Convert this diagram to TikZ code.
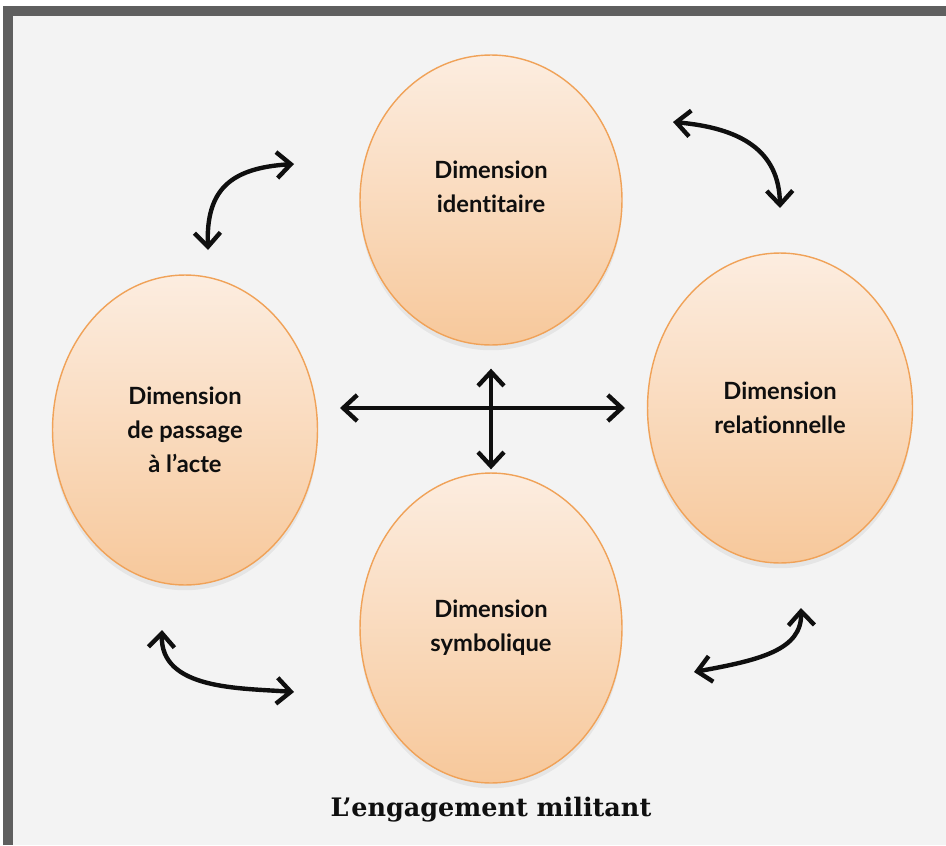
\documentclass[tikz,border=0pt]{standalone}
\usepackage{fontspec}
\newfontfamily\dimfont[Ligatures=NoCommon]{Lato}
\newfontfamily\titlefont{DejaVu Serif}
\usetikzlibrary{arrows.meta,shapes.geometric,shadows}
\definecolor{paper}{RGB}{243,243,243}
\definecolor{rim}{RGB}{95,95,95}
\definecolor{peachtop}{RGB}{252,237,224}
\definecolor{peachbot}{RGB}{247,200,155}
\definecolor{apricot}{RGB}{240,162,88}
\definecolor{ink}{RGB}{15,15,15}
\tikzset{
  >={Straight Barb[length=2.8mm,width=5.2mm]},
  dim/.style={ellipse,draw=apricot,thick,top color=peachtop,bottom color=peachbot,
    minimum width=5.3cm,minimum height=#1,align=center,inner sep=0pt,text=ink,
    font=\dimfont\bfseries\fontsize{13.5}{19.3}\selectfont,
    drop shadow={opacity=0.12,shadow xshift=0pt,shadow yshift=-3pt}},
  dim/.default=6.2cm,
  link/.style={<->,line width=2.5pt,draw=ink,line cap=round},
  caption/.style={font=\titlefont\bfseries\fontsize{14.5}{16}\selectfont,text=ink},
}
\begin{document}
\begin{tikzpicture}[x=0.02cm,y=-0.02cm]
  \useasboundingbox (0,0) rectangle (946,845);
  \fill[paper] (8,11) rectangle (946,845);
  \draw[rim,line width=5.5pt] (8,845) -- (8,11) -- (946,11);

  % the four dimensions
  \node[dim=5.8cm,minimum width=5.24cm] (iden) at (491,200) {Dimension\\identitaire\\[-4.5pt]\mbox{}};
  \node[dim] (acte) at (185,430) {Dimension\\de passage\\à l’acte};
  \node[dim] (rela) at (780,408) {Dimension\\relationnelle};
  \node[dim,minimum width=5.24cm] (symb) at (491,628) {Dimension\\symbolique};
  \node[caption] (titre) at (491,810) {L’engagement militant};

  % cross in the middle
  \coordinate (hl) at (340,408);
  \coordinate (hr) at (625,408);
  \draw[link] (hl) -- (hr);
  \draw[link,shorten <=0.46cm,shorten >=0.06cm] (iden) -- (symb);

  % curved links round the ring
  \coordinate (a1) at (208,250); \coordinate (a2) at (294,164);
  \coordinate (b1) at (673,122); \coordinate (b2) at (780,208);
  \coordinate (c1) at (162,630); \coordinate (c2) at (294,692);
  \coordinate (d1) at (694,672); \coordinate (d2) at (801,608);
  \draw[link] (a1) .. controls (206,190) and (230,168) .. (a2);
  \draw[link] (b1) .. controls (740,128) and (779,150) .. (b2);
  \draw[link] (c1) .. controls (160,690) and (240,688) .. (c2);
  \draw[link] (d1) .. controls (760,660) and (802,650) .. (d2);
\end{tikzpicture}
\end{document}
